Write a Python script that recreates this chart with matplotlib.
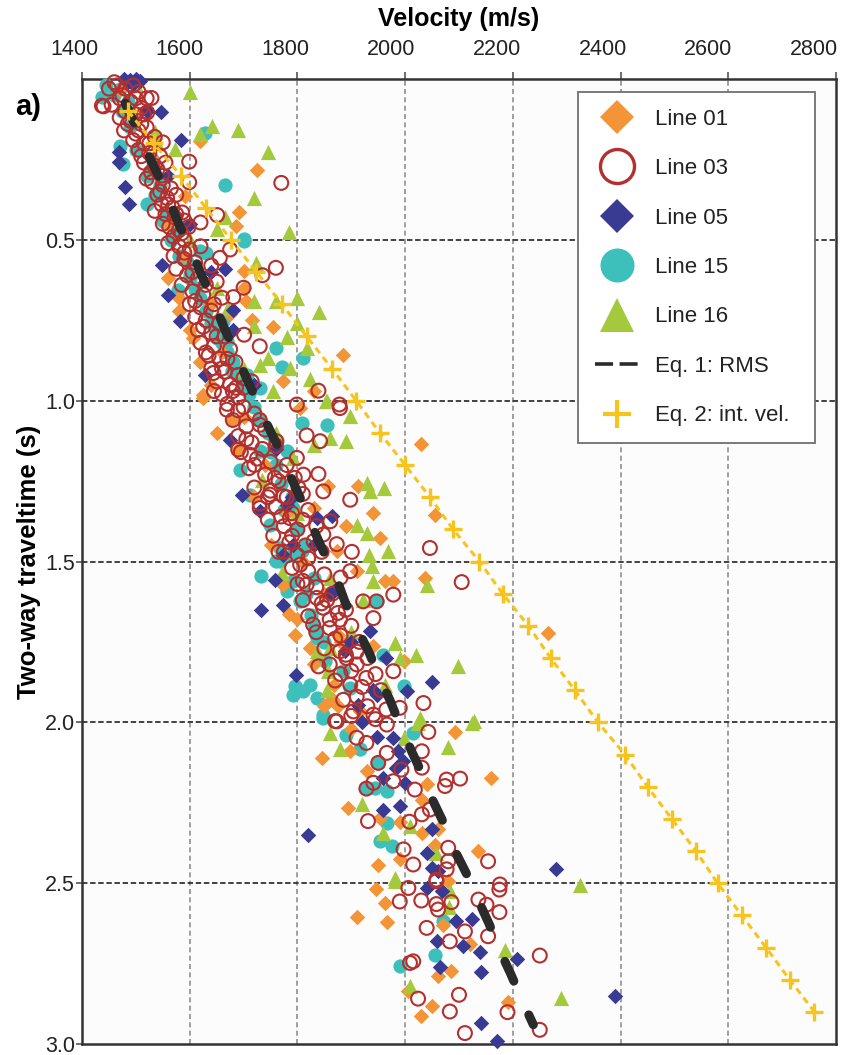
import matplotlib
matplotlib.use("Agg")
import matplotlib.pyplot as plt
import matplotlib.transforms as mtransforms
from matplotlib.lines import Line2D

plt.rcParams['font.family'] = ['Liberation Sans', 'DejaVu Sans']

# ---------------- data (velocity m/s, two-way traveltime s) ----------------
line01_v = [1480, 1470, 1530, 1560, 1590, 1640, 1660, 1700, 1740, 1780, 1810, 1850, 1880,
            1725, 1691, 1686, 1620, 1592,
            1700, 1701, 1705, 1581, 1755, 1715, 1885, 1774, 1624, 1830, 1675, 1607,
            2029, 2055, 1941, 1953, 1913, 1891, 1873, 1857, 1805, 1678, 1830, 1624,
            1910, 1962, 1977, 2037, 2266, 1785, 1795, 1876, 1823, 1941, 1997, 1867, 1864, 1876, 1916, 1774,
            2092, 1845, 2160, 2040, 2031, 1894, 1990, 2061, 2031, 2055, 2136, 1950, 1990, 1953, 1897,
            1946, 1962, 1910, 1966, 2071, 2120, 2061, 2085, 2006, 2050, 2030, 2191, 2080,
            1560, 1580, 1600, 1620, 1640, 1650, 1690, 1720, 1750, 1770, 1800, 1830, 1850, 1900, 1930]
line01_t = [0.005, 0.03, 0.25, 0.45, 0.55, 0.70, 0.85, 1.05, 1.20, 1.35, 1.50, 1.60, 1.75,
            0.282, 0.415, 0.456, 0.192, 0.363,
            0.598, 0.649, 0.689, 0.722, 0.772, 0.748, 0.859, 0.940, 0.981, 0.971, 0.732, 0.805,
            1.135, 1.354, 1.349, 1.427, 1.266, 1.391, 1.468, 1.266, 1.023, 1.059, 1.334, 0.992,
            1.530, 1.562, 1.562, 1.551, 1.722, 1.663, 1.727, 1.727, 1.769, 1.764, 1.810, 1.883, 1.929, 1.950, 1.966, 1.572,
            2.030, 2.112, 2.173, 2.193, 2.240, 2.266, 2.309, 2.333, 2.344, 2.380, 2.400, 2.442, 2.426, 2.297, 2.090,
            2.517, 2.562, 2.606, 2.621, 2.629, 2.689, 2.788, 2.774, 2.836, 2.881, 2.912, 2.869, 2.494,
            0.62, 0.68, 0.78, 0.88, 0.95, 1.10, 1.15, 1.30, 1.45, 1.55, 1.68, 1.82, 1.95, 2.02, 2.15]

line03_v = [1450, 1465, 1480, 1495, 1505, 1470, 1490, 1455, 1440, 1510, 1520, 1480, 1500,
            1470, 1490, 1510, 1478, 1500, 1520, 1495, 1515, 1535,
            1505, 1525, 1545, 1515, 1535, 1555, 1528, 1548,
            1530, 1550, 1565, 1540, 1558, 1575, 1548, 1568,
            1555, 1572, 1590, 1562, 1580, 1598, 1570, 1590,
            1560, 1580, 1600, 1620, 1570, 1590, 1610, 1640, 1575, 1595, 1615, 1650, 1585, 1605, 1625, 1660,
            1600, 1620, 1640, 1610, 1630, 1655, 1615, 1640, 1665, 1620, 1645, 1675, 1635, 1655, 1685,
            1640, 1665, 1690, 1650, 1675, 1700, 1660, 1690,
            1670, 1700, 1720, 1680, 1705, 1740, 1690, 1715, 1760, 1695, 1725, 1750, 1780, 1710, 1740,
            1765, 1795, 1720, 1750, 1780, 1810, 1730, 1760, 1790, 1820, 1745, 1775, 1800, 1835, 1755,
            1785, 1815, 1765, 1800, 1845,
            1790, 1820, 1850, 1880, 1800, 1835, 1865, 1810, 1845, 1890, 1820, 1860, 1900, 1835, 1870,
            1915, 1850, 1890, 1930, 1860, 1900, 1945, 1870, 1920, 1955, 1885, 1930, 1965, 1900,
            1460, 1475, 1500, 1515, 1485, 1505, 1525, 1510, 1540, 1520, 1545, 1560, 1535, 1575, 1550, 1585,
            1590, 1605, 1630, 1610, 1645, 1625, 1650, 1630, 1670, 1660, 1680, 1700, 1645,
            1690, 1730, 1705, 1735, 1720, 1770, 1745, 1770, 1790, 1810, 1775, 1820,
            1810, 1855, 1875, 1880, 1910, 1880, 1910, 1945,
            1529, 1770, 1599, 1599, 1550, 1651, 1620, 1586, 1437, 1521,
            1760, 1675, 1656, 1735, 1700, 1681, 1701, 1730, 1715, 1686, 1839, 1878, 1799, 1644,
            1879, 1898, 2046, 1901, 1873, 1817, 1842, 1839, 1799, 1811, 1848, 1712, 1690, 1669, 1730,
            1749, 1774, 1758, 1802, 1786, 1830, 1848, 1861, 1730, 1761,
            2105, 1978, 1947, 1922, 1941, 1879, 1860, 1829, 1805, 1898, 1879, 1891, 1910, 1928, 1978,
            1898, 1839, 2034, 1990, 1941, 1904, 1873, 1817, 1836, 1848,
            2043, 2031, 2031, 1993, 1966, 1950, 1928, 1910, 1941, 1928, 1978, 2018, 2074, 2102, 2077,
            2046, 2031, 2008, 1931, 1997, 2015, 2080, 2080, 2154, 2077, 2058, 2176, 1870, 1966,
            2006, 1990, 2030, 2058, 2061, 2086, 2058, 2175, 2136, 2151, 2175, 2040, 2111, 2083, 2154,
            2250, 2009, 2015, 2100, 2024, 2083, 2190, 2250, 2111]
line03_t = [0.03, 0.02, 0.03, 0.02, 0.04, 0.06, 0.07, 0.08, 0.085, 0.09, 0.06, 0.10, 0.11,
            0.12, 0.13, 0.14, 0.16, 0.17, 0.15, 0.19, 0.20, 0.18,
            0.22, 0.23, 0.24, 0.26, 0.27, 0.26, 0.29, 0.30,
            0.32, 0.33, 0.34, 0.36, 0.37, 0.36, 0.39, 0.40,
            0.42, 0.43, 0.44, 0.46, 0.47, 0.46, 0.49, 0.50,
            0.51, 0.52, 0.53, 0.52, 0.55, 0.56, 0.57, 0.58, 0.59, 0.61, 0.62, 0.63, 0.64, 0.66, 0.67, 0.68,
            0.70, 0.71, 0.72, 0.74, 0.75, 0.76, 0.78, 0.79, 0.80, 0.82, 0.83, 0.84, 0.86, 0.87, 0.88,
            0.90, 0.91, 0.92, 0.94, 0.95, 0.96, 0.98, 0.99,
            1.01, 1.02, 1.04, 1.06, 1.08, 1.09, 1.11, 1.13, 1.14, 1.16, 1.18, 1.19, 1.20, 1.21, 1.23,
            1.25, 1.24, 1.27, 1.28, 1.30, 1.29, 1.32, 1.33, 1.35, 1.34, 1.37, 1.39, 1.40, 1.39, 1.42,
            1.44, 1.45, 1.47, 1.48, 1.47,
            1.52, 1.53, 1.54, 1.55, 1.57, 1.58, 1.60, 1.62, 1.63, 1.65, 1.67, 1.68, 1.70, 1.72, 1.74,
            1.75, 1.77, 1.79, 1.80, 1.82, 1.84, 1.85, 1.87, 1.89, 1.90, 1.93, 1.95, 1.96, 1.98,
            0.01, 0.05, 0.06, 0.11, 0.14, 0.16, 0.20, 0.24, 0.28, 0.31, 0.35, 0.39, 0.41, 0.42, 0.45, 0.48,
            0.54, 0.60, 0.64, 0.69, 0.70, 0.77, 0.80, 0.85, 0.87, 0.90, 0.97, 0.93, 0.97,
            1.03, 1.06, 1.12, 1.15, 1.20, 1.22, 1.30, 1.36, 1.42, 1.37, 1.47, 1.49,
            1.56, 1.62, 1.66, 1.73, 1.78, 1.85, 1.92, 1.99,
            0.059, 0.323, 0.257, 0.321, 0.197, 0.423, 0.446, 0.415, 0.083, 0.104,
            0.587, 0.530, 0.556, 0.610, 0.649, 0.678, 0.795, 0.831, 0.940, 0.960, 0.969, 1.012, 1.012, 0.914,
            1.023, 1.308, 1.458, 1.470, 1.446, 1.108, 1.126, 1.228, 1.178, 1.230, 1.282, 1.168, 1.152, 1.028, 1.334,
            1.292, 1.297, 1.240, 1.271, 1.365, 1.437, 1.416, 1.375, 1.075, 1.126,
            1.564, 1.603, 1.624, 1.624, 1.676, 1.681, 1.707, 1.696, 1.510, 1.530, 1.779, 1.800, 1.820, 1.862, 1.841,
            1.883, 1.826, 1.940, 1.955, 1.976, 1.966, 1.997, 1.572, 1.613, 1.644,
            2.030, 2.090, 2.141, 2.147, 2.095, 2.126, 2.064, 2.048, 2.188, 2.206, 2.183, 2.209, 2.198, 2.175, 2.178,
            2.271, 2.286, 2.309, 2.307, 2.395, 2.442, 2.390, 2.432, 2.432, 2.457, 2.489, 2.504, 1.996, 2.007,
            2.515, 2.557, 2.554, 2.565, 2.582, 2.559, 2.494, 2.520, 2.551, 2.567, 2.590, 2.639, 2.650, 2.681, 2.665,
            2.725, 2.748, 2.743, 2.847, 2.859, 2.899, 2.901, 2.956, 2.966]

line05_v = [1478, 1490, 1500, 1508, 1495, 1485,
            1547, 1584, 1479, 1488, 1468, 1468,
            1548, 1560, 1582, 1628, 1681, 1665,
            1675, 1698, 1730, 1864, 1836, 1780, 1792, 1774,
            1733, 1758, 1774, 1798, 1935, 2049, 2003, 1947, 1888, 1913, 1965, 1867,
            1820, 1947, 1978, 1987, 1996, 1983, 1959, 1999, 1959, 1990, 2049, 2040, 2049, 2061, 2281, 1919,
            2040, 2068, 2094, 2125, 2060, 2108, 2139, 2207, 2065, 2140, 2389, 2140, 2170,
            1520, 1560, 1600, 1640, 1680, 1720, 1760, 1790, 1830, 1860, 1900, 1940]
line05_t = [0.000, 0.003, 0.000, 0.005, 0.015, 0.010,
            0.102, 0.190, 0.337, 0.389, 0.228, 0.259,
            0.577, 0.670, 0.753, 0.919, 0.717, 0.592,
            1.121, 1.292, 1.344, 1.360, 1.365, 1.323, 1.448, 1.479,
            1.650, 1.556, 1.634, 1.852, 1.717, 1.874, 1.903, 1.914, 1.779, 1.945, 1.800, 1.593,
            2.351, 2.046, 2.048, 2.090, 2.121, 2.141, 2.173, 2.188, 2.271, 2.261, 2.333, 2.406, 2.452, 2.463, 2.457, 1.998,
            2.515, 2.525, 2.619, 2.610, 2.681, 2.696, 2.714, 2.735, 2.762, 2.776, 2.852, 2.935, 2.992,
            0.10, 0.30, 0.45, 0.60, 0.78, 0.95, 1.15, 1.30, 1.45, 1.60, 1.75, 1.90]

line15_v = [1445, 1460, 1475, 1490, 1500, 1520, 1535, 1550, 1565, 1580, 1600, 1620, 1640, 1660,
            1680, 1700, 1720, 1745, 1760, 1770, 1790, 1800, 1815, 1830,
            1470, 1485, 1530, 1545, 1560, 1575, 1595, 1610, 1630, 1650, 1670, 1690, 1710, 1730,
            1750, 1775, 1790, 1815, 1830, 1850,
            1629, 1665, 1701, 1476, 1521, 1437, 1471,
            1700, 1579, 1630, 1761, 1771, 1810, 1669, 1650, 1647, 1662, 1706, 1678, 1619, 1600, 1730,
            1854, 1693, 1780, 1808, 1792, 1749, 1768, 1808, 1761, 1730, 1712,
            1733, 1767, 1792, 1781, 1805, 1826, 1836, 1833, 1851, 1885, 1959, 1997, 1898, 1795, 1823,
            1836, 1792, 1811, 1848, 1947,
            2015, 1891, 1916, 1950, 1928, 1966, 1944, 1966, 1953, 1975, 1848,
            2071, 2055, 1990]
line15_t = [0.02, 0.05, 0.10, 0.15, 0.22, 0.30, 0.36, 0.44, 0.50, 0.55, 0.62, 0.68, 0.76, 0.82,
            0.88, 0.95, 1.02, 1.10, 1.20, 1.26, 1.30, 1.40, 1.45, 1.55,
            0.03, 0.07, 0.25, 0.33, 0.42, 0.48, 0.57, 0.65, 0.72, 0.78, 0.85, 0.92, 0.98, 1.06,
            1.16, 1.34, 1.48, 1.60, 1.70, 1.75,
            0.168, 0.330, 0.497, 0.264, 0.389, 0.057, 0.207,
            0.504, 0.655, 0.541, 0.836, 0.896, 0.867, 0.815, 0.805, 0.774, 0.753, 0.919, 0.908, 0.535, 0.608, 0.960,
            1.075, 1.214, 1.157, 1.069, 1.334, 1.385, 1.458, 1.468, 1.499, 1.157, 1.292,
            1.546, 1.499, 1.562, 1.593, 1.624, 1.665, 1.738, 1.712, 1.810, 1.841, 1.790, 1.888, 1.893, 1.888, 1.883,
            1.924, 1.914, 1.904, 1.976, 1.624,
            2.033, 2.038, 2.084, 2.126, 2.204, 2.212, 2.204, 2.312, 2.369, 2.385, 1.986,
            2.619, 2.722, 2.759]

line16_v = [1500, 1540, 1600, 1650, 1700, 1760, 1800, 1860, 1900,
            1600, 1641, 1690, 1745, 1720, 1784, 1666, 1651, 1620, 1536, 1572,
            1724, 1720, 1761, 1800, 1840, 1799, 1720, 1780, 1817, 1731, 1746, 1786, 1823, 1755, 1853, 1672,
            1854, 1898, 1890, 1830, 1929, 1960, 1935, 1910, 1929, 1969, 1932, 1861, 1792, 1734,
            1938, 1941, 2040, 1922, 1981, 2021, 2099, 1990, 1860, 1836, 1857, 1854, 1962, 1771, 2127, 2027,
            2125, 2080, 1860, 1879, 1997, 1919, 2009, 1959, 2058, 1981, 2024,
            1981, 2325, 2290, 2083, 2082, 2009, 2185]
line16_t = [0.02, 0.20, 0.50, 0.65, 0.90, 1.10, 1.35, 1.55, 1.72,
            0.041, 0.145, 0.158, 0.228, 0.371, 0.477, 0.430, 0.466, 0.171, 0.166, 0.218,
            0.572, 0.691, 0.691, 0.681, 0.724, 0.758, 0.769, 0.803, 0.836, 0.888, 0.867, 0.898, 0.934, 0.971, 1.000, 0.712,
            1.002, 1.049, 1.126, 1.137, 1.256, 1.271, 1.282, 1.385, 1.411, 1.468, 1.479, 1.116, 1.178, 1.246,
            1.515, 1.562, 1.572, 1.619, 1.753, 1.790, 1.826, 1.800, 1.769, 1.779, 1.841, 1.898, 1.883, 1.536, 1.997, 1.986,
            2.002, 2.077, 2.033, 2.084, 2.048, 2.255, 2.323, 2.344, 2.406, 2.483, 2.002,
            2.494, 2.507, 2.857, 2.525, 2.575, 2.821, 2.707]

# Eq. 1 (RMS) curve, read along the dashes
rms_v = [1480, 1499, 1521, 1541, 1564, 1581, 1604, 1622, 1644, 1662, 1684, 1703, 1726, 1744,
         1768, 1786, 1808, 1826, 1848, 1870, 1888, 1907, 1932, 1950, 1972, 1990, 2012, 2032,
         2052, 2073, 2092, 2114, 2136, 2156, 2176, 2196, 2218, 2238]
rms_t = [0.075, 0.145, 0.228, 0.298, 0.385, 0.456, 0.535, 0.610, 0.691, 0.766, 0.848, 0.921,
         1.007, 1.075, 1.157, 1.230, 1.313, 1.385, 1.468, 1.541, 1.624, 1.696, 1.779, 1.852,
         1.932, 2.007, 2.090, 2.162, 2.245, 2.318, 2.398, 2.471, 2.554, 2.627, 2.710, 2.782,
         2.867, 2.940]

# Eq. 2 (interval velocity)
int_t = [0.1, 0.2, 0.3, 0.4, 0.5, 0.6, 0.7, 0.8, 0.9, 1.0, 1.1, 1.2, 1.3, 1.4, 1.5,
         1.6, 1.7, 1.8, 1.9, 2.0, 2.1, 2.2, 2.3, 2.4, 2.5, 2.6, 2.7, 2.8, 2.9]
int_v = [1486, 1533, 1583, 1630, 1677, 1724, 1771, 1817, 1864, 1909, 1953, 2000, 2046, 2089,
         2138, 2181, 2229, 2270, 2315, 2358, 2408, 2450, 2495, 2540, 2580, 2625, 2670, 2714, 2760]

x_ticks = [1400, 1600, 1800, 2000, 2200, 2400, 2600, 2800]
y_ticks = [0.5, 1.0, 1.5, 2.0, 2.5, 3.0]
labels = ['Line 01', 'Line 03', 'Line 05', 'Line 15', 'Line 16', 'Eq. 1: RMS', 'Eq. 2: int. vel.']

# ---------------- styling ----------------
C_ORANGE = '#f39436'
C_RED = '#b3302f'
C_BLUE = '#393a92'
C_TEAL = '#3dc0bb'
C_GREEN = '#a5c93c'
C_BLACK = '#2b2b2b'
C_YELLOW = '#f6c41c'

fig = plt.figure(figsize=(8.43, 10.55), dpi=100)
ax = fig.add_axes([82 / 843, 1 - 1044 / 1055, (836 - 82) / 843, (1044 - 79) / 1055])
ax.set_facecolor('#fcfcfc')

ax.scatter(line15_v, line15_t, s=105, marker='o', color=C_TEAL, linewidths=0, zorder=3, clip_on=False)
ax.scatter(line01_v, line01_t, s=62, marker='D', color=C_ORANGE, linewidths=0, zorder=3, clip_on=False)
ax.scatter(line16_v, line16_t, s=120, marker='^', color=C_GREEN, linewidths=0, zorder=3, clip_on=False)
ax.scatter(line05_v, line05_t, s=62, marker='D', color=C_BLUE, linewidths=0, zorder=3, clip_on=False)
ax.scatter(line03_v, line03_t, s=100, marker='o', facecolors='none', edgecolors=C_RED,
           linewidths=1.5, zorder=4, clip_on=False)

ax.plot(rms_v, rms_t, color=C_BLACK, lw=6.5, linestyle=(0, (2.4, 4.1)),
        dash_capstyle='round', solid_capstyle='round', zorder=6)
ax.plot(int_v, int_t, color=C_YELLOW, lw=2.2, linestyle=(0, (2.2, 1.6)), marker='+',
        markersize=13, markeredgewidth=2.4, zorder=7)

ax.set_xlim(1400, 2800)
ax.set_ylim(3.0, 0.0)
ax.xaxis.tick_top()
ax.xaxis.set_label_position('top')
ax.set_xticks(x_ticks)
ax.set_yticks(y_ticks)
ax.set_yticklabels([f'{v:.1f}' for v in y_ticks])
ax.tick_params(axis='both', labelsize=15.5, length=5, width=1.2, color='#555555', labelcolor='#222222')
ax.tick_params(axis='x', pad=9)
ax.tick_params(axis='y', length=4, pad=1)

# the top tick labels sit slightly left of their ticks in the original
for i, tk in enumerate(ax.xaxis.get_major_ticks()):
    shift = -(8 + 2.0 * i) / 100.0
    off = mtransforms.ScaledTranslation(shift, 0, fig.dpi_scale_trans)
    tk.label2.set_transform(tk.label2.get_transform() + off)

for xv in x_ticks[1:-1]:
    ax.axvline(xv, color='#8f8f8f', lw=1.2, linestyle=(0, (3, 2)), zorder=1)
for yv in y_ticks[:-1]:
    ax.axhline(yv, color='#333333', lw=1.3, linestyle=(0, (3, 1.5)), zorder=1)

for sp in ax.spines.values():
    sp.set_color('#333333')
    sp.set_linewidth(1.8)

ax.set_xlabel('Velocity (m/s)', fontsize=18, fontweight='bold', labelpad=9)
ax.set_ylabel('Two-way traveltime (s)', fontsize=18.5, fontweight='bold', labelpad=3)
fig.text(15 / 843, 1 - 107 / 1055, 'a)', fontsize=21, fontweight='bold', ha='left', va='center')

handles = [
    Line2D([], [], ls='none', marker='D', markersize=17.5, color=C_ORANGE, markeredgewidth=0),
    Line2D([], [], ls='none', marker='o', markersize=24.5, markerfacecolor='none',
           markeredgecolor=C_RED, markeredgewidth=2.4),
    Line2D([], [], ls='none', marker='D', markersize=17.5, color=C_BLUE, markeredgewidth=0),
    Line2D([], [], ls='none', marker='o', markersize=24.5, color=C_TEAL, markeredgewidth=0),
    Line2D([], [], ls='none', marker='^', markersize=24.5, color=C_GREEN, markeredgewidth=0),
    Line2D([], [], color=C_BLACK, lw=2.6, linestyle=(0, (5.0, 1.8))),
    Line2D([], [], ls='none', marker='+', markersize=20, markeredgewidth=3, color=C_YELLOW),
]
leg = ax.legend(handles, labels, loc='upper left',
                bbox_to_anchor=(0.6578, 0.5, 0.3143, 0.4865), mode='expand',
                fontsize=16, frameon=True, fancybox=False, framealpha=1,
                edgecolor='#707070', borderpad=0.75, labelspacing=1.28,
                handlelength=2.0, handletextpad=0.7, borderaxespad=0)
leg.get_frame().set_linewidth(1.3)
leg.set_zorder(10)
for t in leg.get_texts():
    t.set_color('#222222')

fig.savefig('out.png', dpi=100, facecolor='white')
